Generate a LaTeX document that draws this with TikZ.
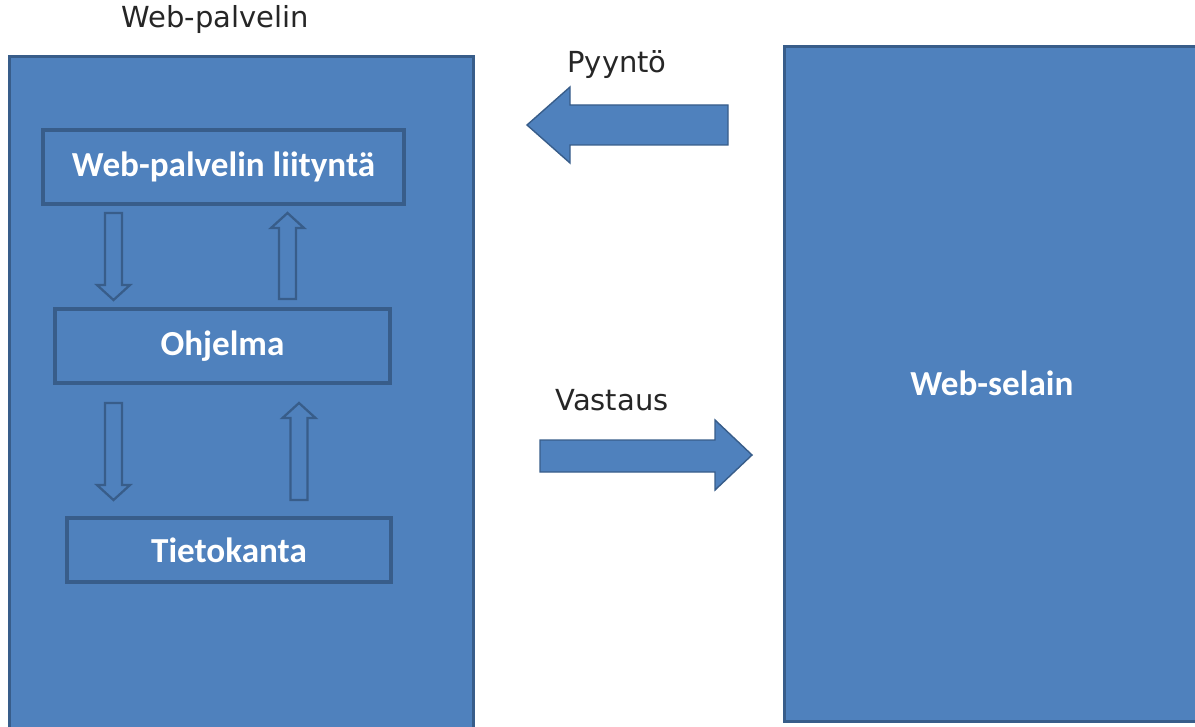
\documentclass[tikz,border=0pt]{standalone}
\usepackage{fontspec}
\setmainfont{Carlito}
\newfontfamily\labelfont{DejaVu Sans}
\usetikzlibrary{positioning}

\definecolor{boxblue}{HTML}{4F81BD}
\definecolor{edgeblue}{HTML}{385D8A}

\tikzset{
  panel/.style={draw=edgeblue, line width=1.5pt, fill=boxblue},
  layer/.style={draw=edgeblue, line width=1.8pt, fill=boxblue, text=white,
    font=\bfseries\fontsize{20}{24}\selectfont},
  caption/.style={font=\labelfont\fontsize{16.5}{20}\selectfont, text=black!85},
  bigarrow/.style={draw=edgeblue, line width=0.8pt, fill=boxblue},
  thinarrow/.style={draw=edgeblue, line width=1.3pt},
  pics/hollowarrow/.style={code={
    \draw[thinarrow] (-8.5,0) -- (8.5,0) -- (8.5,#1-15) -- (16.5,#1-15)
      -- (0,#1) -- (-16.5,#1-15) -- (-8.5,#1-15) -- cycle;
  }}
}

\begin{document}
\begin{tikzpicture}[x=0.02cm, y=-0.02cm]

\useasboundingbox (0,0) rectangle (1195,726);
\clip (0,0) rectangle (1195,726);

% server side
\node[panel, minimum width=9.28cm, minimum height=14cm, anchor=north west]
  (server) at (8,55) {};
\node[caption] (servername) at (215,20) {Web-palvelin};

\node[layer, minimum width=7.22cm, minimum height=1.48cm] (iface) at (223.5,167)
  {Web-palvelin liityntä};
\node[layer, minimum width=6.7cm, minimum height=1.48cm] (prog) at (222.5,346)
  {Ohjelma};
\node[layer, minimum width=6.48cm, minimum height=1.28cm] (db) at (229,550)
  {Tietokanta};

\pic at (113.5,213) {hollowarrow=87};
\pic[rotate=180] at (287.5,299) {hollowarrow=86};
\pic at (113.5,403) {hollowarrow=97};
\pic[rotate=180] at (299,500) {hollowarrow=97};

% browser side
\node[panel, minimum width=8.3cm, minimum height=13.5cm, anchor=north west,
  text=white, font=\bfseries\fontsize{20}{24}\selectfont] (browser) at (783,45)
  {Web-selain};

% request and response
\node[caption] (req) at (617,65) {Pyyntö};
\node[caption] (resp) at (612,400) {Vastaus};

\draw[bigarrow] (728,105) -- (570,105) -- (570,87) -- (527,125) -- (570,163)
  -- (570,145) -- (728,145) -- cycle;
\draw[bigarrow] (540,440) -- (715,440) -- (715,420) -- (752,455) -- (715,490)
  -- (715,472) -- (540,472) -- cycle;

\end{tikzpicture}
\end{document}
